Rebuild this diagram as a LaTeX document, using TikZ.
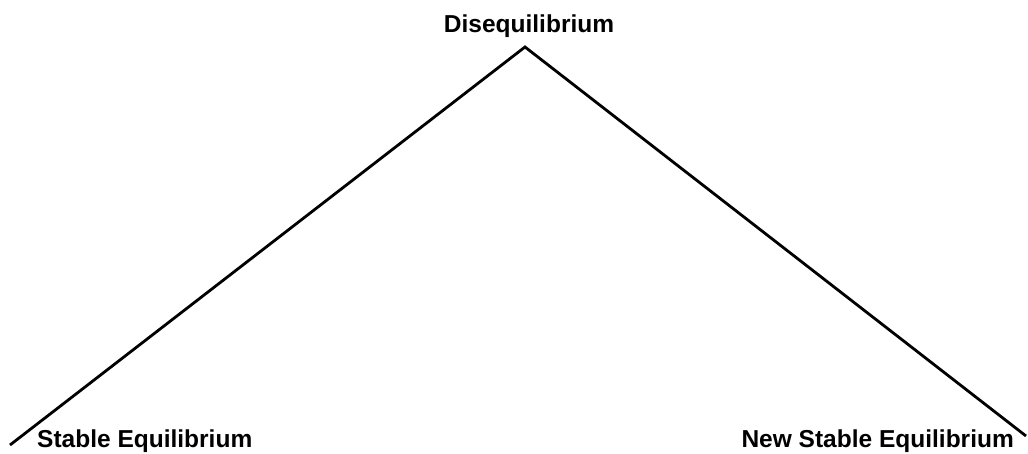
\documentclass[tikz,border=0pt]{standalone}
\usepackage{fontspec}
\setmainfont{Liberation Sans}
\usetikzlibrary{positioning}

\begin{document}
\begin{tikzpicture}[x=1pt, y=1pt,
    statelabel/.style={font=\bfseries\fontsize{24.5}{27}\selectfont, inner sep=0pt},
    path/.style={line width=2.8pt, black, line join=miter}
]
\useasboundingbox (0,0) rectangle (1028,453);

\coordinate (lefttip)  at (10,8);
\coordinate (apex)     at (525,406);
\coordinate (righttip) at (1026,17);

\node[statelabel, anchor=base]      (diseq)     at (529,420) {Disequilibrium};
\node[statelabel, anchor=base west] (stable)    at (37,6)    {Stable Equilibrium};
\node[statelabel, anchor=base east] (newstable) at (1014,6)  {New Stable Equilibrium};

\draw[path] (lefttip) -- (apex) -- (righttip);
\end{tikzpicture}
\end{document}
